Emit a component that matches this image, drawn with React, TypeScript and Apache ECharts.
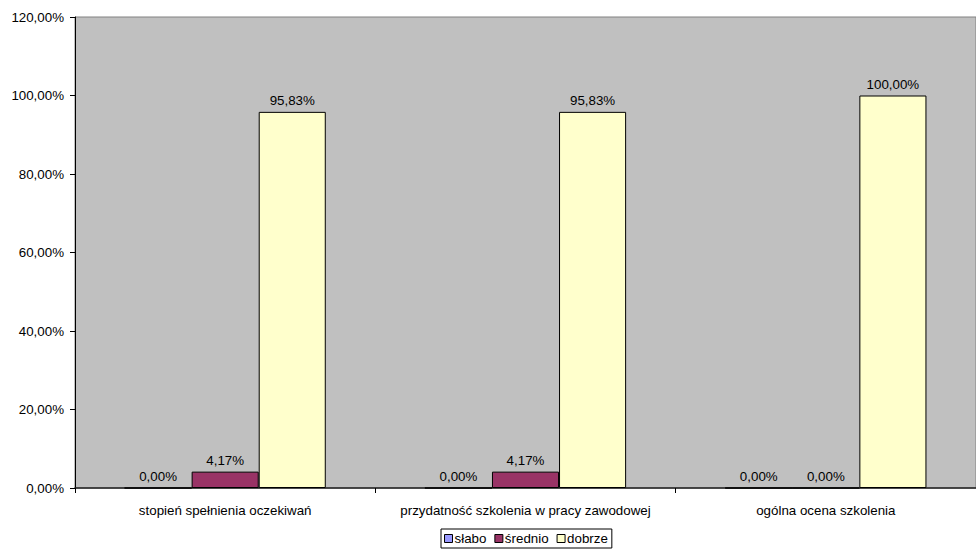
import React, { useEffect, useRef } from "react";
import * as echarts from "echarts";

const categories = [
  "stopień spełnienia oczekiwań",
  "przydatność szkolenia w pracy zawodowej",
  "ogólna ocena szkolenia",
];
const seriesNames = ["słabo", "średnio", "dobrze"];
const slabo = [0, 0, 0];
const srednio = [4.17, 4.17, 0];
const dobrze = [95.83, 95.83, 100];
const seriesColors = ["#9999FF", "#993366", "#FFFFCC"];

const FONT = "'Liberation Sans', Arial, sans-serif";
const FS = 13.33;
const pct = (v: number) => v.toFixed(2).replace(".", ",") + "%";

export default function App() {
  const ref = useRef<HTMLDivElement>(null);

  useEffect(() => {
    if (!ref.current) return;
    const chart = echarts.init(ref.current, undefined, { renderer: "svg" });
    const values = [slabo, srednio, dobrze];
    chart.setOption({
      animation: false,
      textStyle: { fontFamily: FONT },
      grid: {
        left: 75,
        top: 17,
        width: 909,
        bottom: 63,
        show: true,
        backgroundColor: "#C0C0C0",
        borderColor: "#808080",
        borderWidth: 1,
      },
      legend: {
        top: 529,
        left: 441,
        data: seriesNames,
        itemWidth: 8,
        itemHeight: 8,
        itemGap: 8,
        padding: [3, 4, 3, 3],
        borderColor: "#000",
        borderWidth: 1,
        icon: "rect",
        textStyle: { fontFamily: FONT, fontSize: FS, color: "#000", padding: [0, 0, 0, -3] },
        itemStyle: { borderColor: "#000", borderWidth: 1 },
      },
      xAxis: {
        type: "category",
        data: categories,
        axisLine: { lineStyle: { color: "#222", width: 1.5 } },
        axisTick: { show: true, length: 5, alignWithLabel: false, lineStyle: { color: "#000" } },
        axisLabel: {
          fontFamily: FONT,
          fontSize: FS,
          color: "#000",
          margin: 16,
          interval: 0,
          hideOverlap: false,
        },
        splitLine: { show: false },
      },
      yAxis: {
        type: "value",
        min: 0,
        max: 120,
        interval: 20,
        axisLine: { show: true, lineStyle: { color: "#000", width: 1 } },
        axisTick: { show: true, length: 5, lineStyle: { color: "#000" } },
        axisLabel: {
          fontFamily: FONT,
          fontSize: FS,
          color: "#000",
          margin: 11,
          formatter: (v: number) => pct(v),
        },
        splitLine: { show: false },
      },
      series: seriesNames.map((name, i) => ({
        name,
        type: "bar",
        data: values[i],
        barGap: "0%",
        barCategoryGap: "33%",
        itemStyle: { color: seriesColors[i], borderColor: "#000", borderWidth: 1 },
        label: {
          show: true,
          position: "top",
          distance: 5,
          fontFamily: FONT,
          fontSize: FS,
          color: "#000",
          formatter: (p: any) => pct(p.value),
        },
      })),
    });
    return () => chart.dispose();
  }, []);

  return (
    <div
      ref={ref}
      style={{ position: "fixed", left: 0, top: 0, width: 976, height: 551, background: "#fff" }}
    />
  );
}
